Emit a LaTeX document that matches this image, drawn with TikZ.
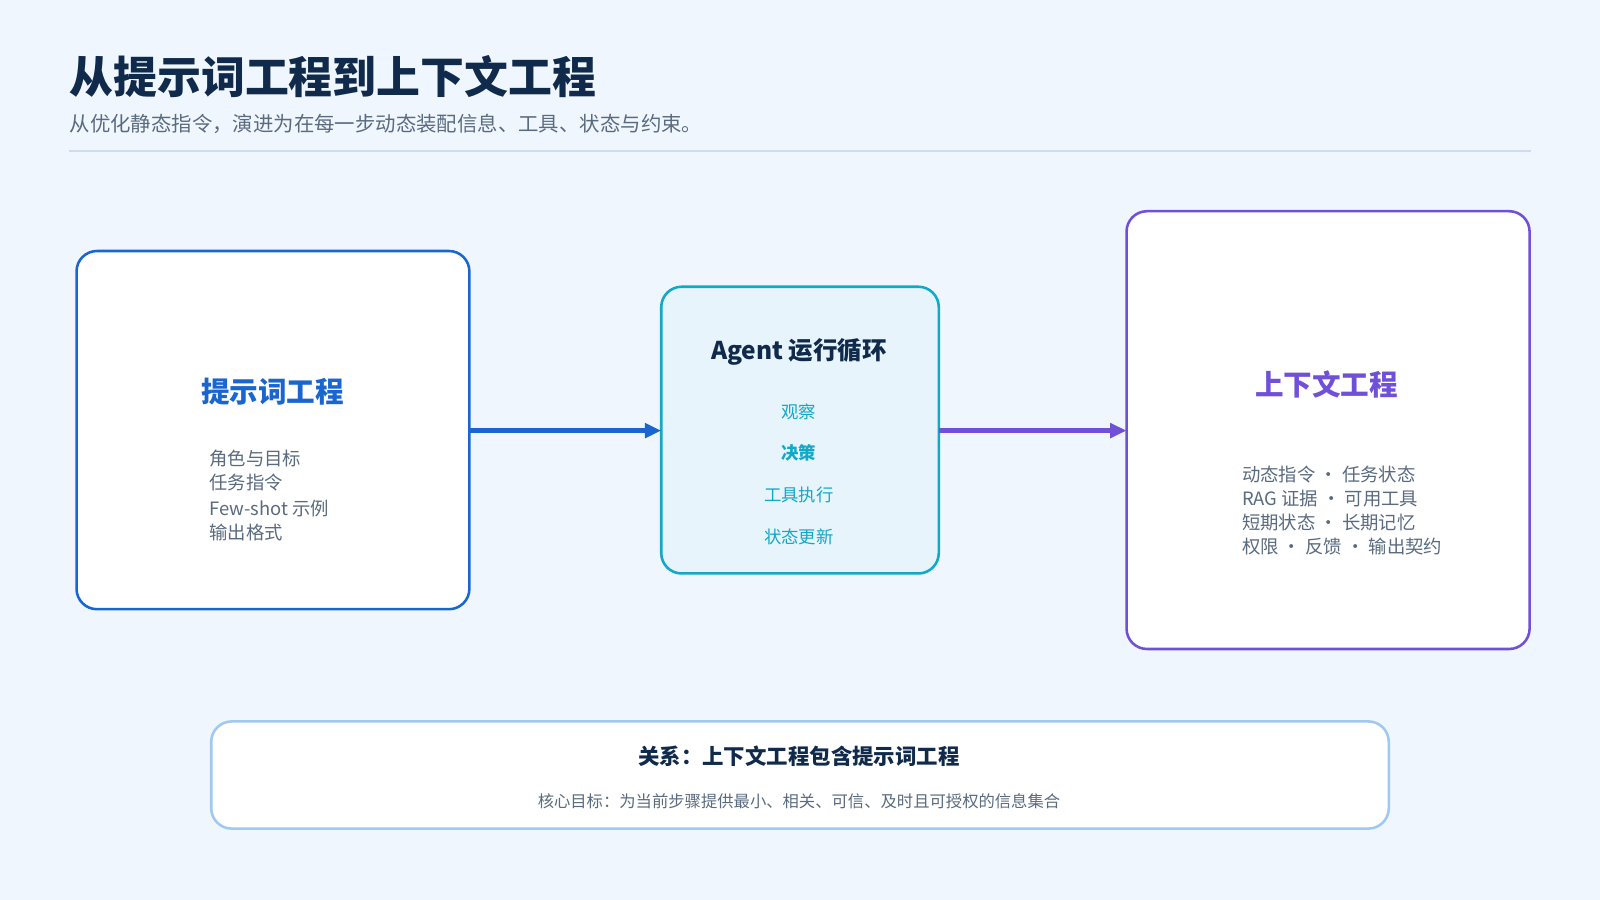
\documentclass[tikz,border=0pt]{standalone}
\usepackage{fontspec}
\setmainfont{Noto Sans CJK SC}
\usetikzlibrary{positioning,arrows.meta}
\definecolor{bgc}{HTML}{F0F6FE}
\definecolor{navy}{HTML}{0F2A4A}
\definecolor{greyt}{HTML}{5A6B80}
\definecolor{blueb}{HTML}{1A66D0}
\definecolor{cyanb}{HTML}{12A8C8}
\definecolor{cyanf}{HTML}{E8F4FC}
\definecolor{purpb}{HTML}{7050D8}
\definecolor{lightb}{HTML}{A0C8F0}
\tikzset{
  card/.style={line width=2.5pt, rounded corners=20pt, fill=white},
  item/.style={inner sep=0pt, anchor=west, text=greyt, font=\fontsize{18}{20}\selectfont},
  loopitem/.style={inner sep=0pt, text=cyanb, font=\fontsize{17}{19}\selectfont},
  flow/.style={line width=5.5pt, -{Triangle[length=16pt,width=14pt]}}
}
\begin{document}
\begin{tikzpicture}[x=1pt,y=-1pt]
  \fill [bgc] (0,0) rectangle (1568,882);
  \useasboundingbox (0,0) rectangle (1568,882);
  % heading
  \node [inner sep=0pt, anchor=west, text=navy, font=\fontsize{43}{47}\selectfont\bfseries] (title) at (68,75) {从提示词工程到上下文工程};
  \node [inner sep=0pt, anchor=west, text=greyt, font=\fontsize{20}{22}\selectfont] (sub) at (68,121) {从优化静态指令，演进为在每一步动态装配信息、工具、状态与约束。};
  \draw [color={rgb,255:red,208;green,220;blue,234}, line width=1.2pt] (68,148) -- (1500,148);
  % boxes
  \draw [card, draw=blueb] (75,246) rectangle (460,597);
  \coordinate (pw) at (460,422);
  \node [inner sep=0pt, text=blueb, font=\fontsize{28}{30}\selectfont\bfseries] (pt) at (267,384) {提示词工程};
  \node [item] (p1) at (205,449) {角色与目标};
  \node [item] (p2) at (205,473) {任务指令};
  \node [item] (p3) at (205,498) {Few-shot 示例};
  \node [item] (p4) at (205,522) {输出格式};
  \draw [card, draw=cyanb, fill=cyanf] (648,281) rectangle (920,562);
  \coordinate (aw) at (648,422);
  \coordinate (ae) at (920,422);
  \node [inner sep=0pt, text=navy, font=\fontsize{24}{26}\selectfont\bfseries] (at) at (783,345) {Agent 运行循环};
  \node [loopitem] (a1) at (783,404) {观察};
  \node [loopitem, font=\fontsize{17}{19}\selectfont\bfseries] (a2) at (783,444) {决策};
  \node [loopitem] (a3) at (783,485) {工具执行};
  \node [loopitem] (a4) at (783,526) {状态更新};
  \draw [card, draw=purpb] (1104,207) rectangle (1499,636);
  \coordinate (cw) at (1104,422);
  \node [inner sep=0pt, text=purpb, font=\fontsize{28}{30}\selectfont\bfseries] (ct) at (1300,377) {上下文工程};
  \node [item] (c1) at (1217,465) {动态指令 · 任务状态};
  \node [item] (c2) at (1217,489) {RAG 证据 · 可用工具};
  \node [item] (c3) at (1217,512) {短期状态 · 长期记忆};
  \node [item] (c4) at (1217,536) {权限 · 反馈 · 输出契约};
  % arrows
  \draw [flow, blueb] (pw) -- (aw);
  \draw [flow, purpb] (ae) -- (cw);
  % relation
  \draw [card, draw=lightb] (207,707) rectangle (1361,812);
  \node [inner sep=0pt, text=navy, font=\fontsize{21}{23}\selectfont\bfseries] (r1) at (783,741) {关系：上下文工程包含提示词工程};
  \node [inner sep=0pt, text=greyt, font=\fontsize{16}{18}\selectfont] (r2) at (783,785) {核心目标：为当前步骤提供最小、相关、可信、及时且可授权的信息集合};
\end{tikzpicture}
\end{document}
